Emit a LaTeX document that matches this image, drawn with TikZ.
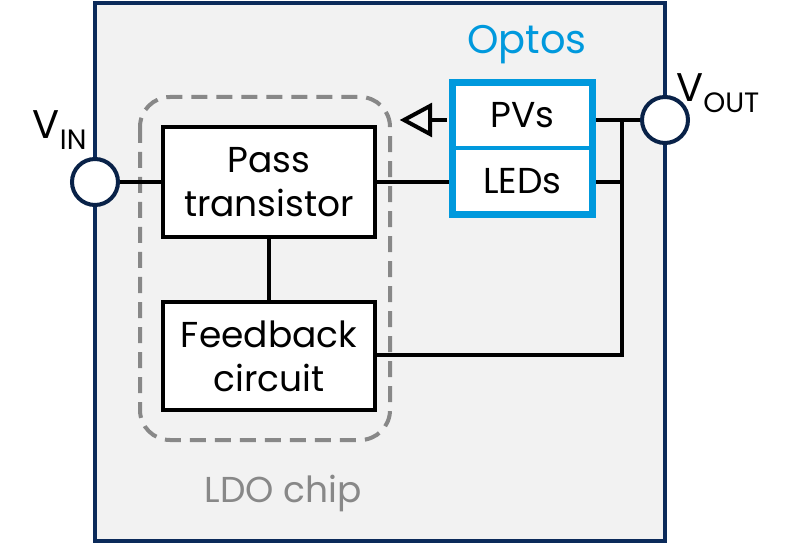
\documentclass[tikz,border=0pt]{standalone}
\usepackage{fontspec}
\setmainfont{Poppins}
\definecolor{navy}{HTML}{0B2A5A}
\definecolor{optblue}{HTML}{0099DD}
\definecolor{dgray}{HTML}{888888}
\begin{document}
\begin{tikzpicture}[x=1pt,y=-1pt,
  blk/.style={draw=black,line width=4pt,fill=white,font=\fontsize{36}{40}\selectfont,align=center},
  wire/.style={line width=4pt,black},
  term/.style={circle,draw=navy!80!black,line width=4pt,fill=white,minimum size=46pt,inner sep=0pt}]
\useasboundingbox (0,0) rectangle (800,545);
\draw[navy,line width=4pt,fill=black!5] (95,3) rectangle (665,541);
\draw[dgray,line width=4pt,dash pattern=on 16pt off 9pt,rounded corners=30pt] (140,97) rectangle (390,440);
\node[blk,minimum width=212pt,minimum height=110pt] (pass) at (269,182) {Pass\\[4pt]transistor};
\node[blk,minimum width=212pt,minimum height=108pt] (fb) at (269,356) {Feedback\\[4pt]circuit};
\node[draw=optblue,line width=7pt,fill=white,minimum width=140pt,minimum height=132pt,inner sep=0pt] (opt) at (522.5,148.5) {};
\draw[optblue,line width=4pt] (opt.west |- 0,148) -- (opt.east |- 0,148);
\node[font=\fontsize{36}{40}\selectfont] (pv) at (522.5,115) {PVs};
\node[font=\fontsize{36}{40}\selectfont] (led) at (522.5,181) {LEDs};
\node[font=\fontsize{40}{44}\selectfont,text=optblue] (optl) at (527,45) {Optos};
\node[font=\fontsize{36}{40}\selectfont,text=dgray] (ldo) at (283,493) {LDO chip};
\node[term] (vin) at (95,182) {};
\node[term] (vout) at (665,120) {};
\node[font=\fontsize{40}{44}\selectfont] (vinl) at (60,130) {V\textsubscript{IN}};
\node[font=\fontsize{40}{44}\selectfont] (voutl) at (718,93) {V\textsubscript{OUT}};
\coordinate (pvl) at (447,120);
\coordinate (tb) at (430,120);
\coordinate (tip) at (404,120);
\coordinate (j1) at (622,120);
\coordinate (j2) at (622,182);
\coordinate (j3) at (622,355);
\draw[wire] (vin.east) -- (pass.west);
\draw[wire] (pass.east) -- (pass.east -| opt.west);
\draw[wire] (pass.south) -- (fb.north);
\draw[wire] (opt.east |- j1) -- (vout.west);
\draw[wire] (opt.east |- j2) -- (j2);
\draw[wire] (j1) -- (j3) -- (fb.east |- j3);
\draw[wire] (pvl) -- (tb);
\draw[wire,line join=miter] (tip) -- ([yshift=-14pt]tb) -- ([yshift=14pt]tb) -- cycle;
\end{tikzpicture}
\end{document}
